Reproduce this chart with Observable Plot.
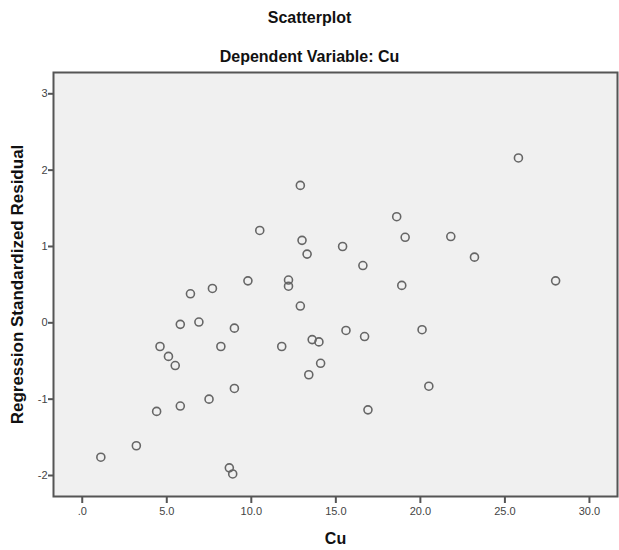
<!DOCTYPE html>
<html><head><meta charset="utf-8">
<script src="https://cdn.jsdelivr.net/npm/d3@7"></script>
<script src="https://cdn.jsdelivr.net/npm/@observablehq/plot@0.6"></script>
<style>
body{margin:0;background:#fff;font-family:"Liberation Sans",Arial,sans-serif;}
#head{position:relative;width:619px;height:60px;}
#head div{position:absolute;left:0;width:619px;text-align:center;font-weight:bold;font-size:16px;line-height:16px;color:#111;}
</style></head><body>
<div id="head"><div style="top:10px">Scatterplot</div><div style="top:49px">Dependent Variable: Cu</div></div>
<div id="chart"></div>
<script>
const cu = [1.1, 3.2, 4.4, 4.6, 5.1, 5.5, 5.8, 5.8, 6.4, 6.9, 7.5, 7.7, 8.2, 8.7, 8.9, 9.0, 9.0, 9.8, 10.5, 11.8, 12.2, 12.2, 12.9, 12.9, 13.0, 13.3, 13.4, 13.6, 14.0, 14.1, 15.4, 15.6, 16.6, 16.7, 16.9, 18.6, 18.9, 19.1, 20.1, 20.5, 21.8, 23.2, 25.8, 28.0];
const residual = [-1.76, -1.61, -1.16, -0.31, -0.44, -0.56, -0.02, -1.09, 0.38, 0.01, -1.00, 0.45, -0.31, -1.90, -1.98, -0.07, -0.86, 0.55, 1.21, -0.31, 0.56, 0.48, 1.80, 0.22, 1.08, 0.90, -0.68, -0.22, -0.25, -0.53, 1.00, -0.10, 0.75, -0.18, -1.14, 1.39, 0.49, 1.12, -0.09, -0.83, 1.13, 0.86, 2.16, 0.55];
const xTicks = [0, 5, 10, 15, 20, 25, 30];
const yTicks = [-2, -1, 0, 1, 2, 3];
const xLabel = "Cu";
const yLabel = "Regression Standardized Residual";

const data = cu.map((c, i) => ({cu: c, res: residual[i]}));

const plot = Plot.plot({
  width: 619, height: 490,
  marginTop: 12, marginBottom: 54, marginLeft: 53, marginRight: 2,
  style: {fontFamily: "Liberation Sans, Arial, sans-serif", background: "#fff", overflow: "visible"},
  x: {domain: [-1.70, 31.66]},
  y: {domain: [-2.275, 3.279]},
  marks: [
    Plot.frame({fill: "#f0f0f0"}),
    Plot.dot(data, {x: "cu", y: "res", r: 4, stroke: "#666", strokeWidth: 1.6, fill: "none"}),
    Plot.frame({stroke: "#555", strokeWidth: 2}),
    Plot.axisX({ticks: xTicks, tickFormat: d => d === 0 ? ".0" : d.toFixed(1), tickSize: 7, tickPadding: 4,
      fontSize: 11, stroke: "#555", strokeWidth: 2, fill: "#444", label: null}),
    Plot.axisY({ticks: yTicks, tickFormat: d => String(d), tickSize: 5, tickPadding: 1,
      fontSize: 11, stroke: "#555", strokeWidth: 2, fill: "#444", label: null}),
    Plot.text([xLabel], {text: d => d, frameAnchor: "bottom", dy: 42, textAnchor: "middle", lineAnchor: "middle",
      fontSize: 16, fontWeight: "bold", fill: "#111"}),
    Plot.text([yLabel], {text: d => d, frameAnchor: "left", dx: -36, rotate: -90, textAnchor: "middle", lineAnchor: "middle",
      fontSize: 17, fontWeight: "bold", fill: "#111"})
  ]
});
document.getElementById("chart").appendChild(plot);
</script>
</body></html>
